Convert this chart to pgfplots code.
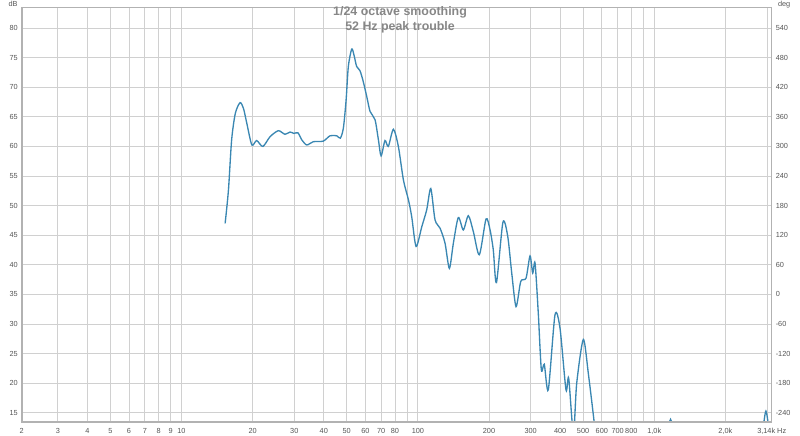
\documentclass[border=0pt]{standalone}
\usepackage{fontspec}
\setmainfont{Liberation Sans}
\usepackage{pgfplots}
\pgfplotsset{compat=1.18}
\usetikzlibrary{calc}
\definecolor{curve}{RGB}{58,135,178}
\definecolor{gridc}{RGB}{208,208,208}
\definecolor{framec}{RGB}{178,178,178}
\definecolor{labc}{RGB}{85,85,85}
\definecolor{titc}{RGB}{135,135,135}
\begin{document}
\begin{tikzpicture}
\begin{axis}[
  name=main,
  scale only axis,
  width=562.5pt, height=310.8pt,
  xmode=log,
  xmin=2.11, xmax=3140,
  ymin=13.5, ymax=83.5,
  xtick={2.11,3,4,5,6,7,8,9,10,20,30,40,50,60,70,80,90,100,200,300,400,500,600,700,800,900,1000,2000,3000,3140},
  xticklabels={2,3,4,5,6,7,8,9,10,20,30,40,50,60,70,80,,100,200,300,400,500,600,700,800,,{1,0k},{2,0k},,{3,14k Hz}},
  ytick={15,20,...,80},
  minor tick num=0,
  grid=major,
  major grid style={draw=gridc, line width=0.6pt},
  major tick length=0pt,
  axis line style={draw=framec, line width=0.7pt},
  tick label style={font=\fontsize{5.5}{6}\selectfont, text=labc},
  xticklabel style={yshift=-1.2pt},
  yticklabel style={xshift=0.5pt},
  /pgf/number format/assume math mode=true,
  title={1/24 octave smoothing\\52 Hz peak trouble},
  title style={at={(axis description cs:0.5,1)}, anchor=north, yshift=-2.2pt, xshift=2.5pt, align=center,
    font=\bfseries\fontsize{9.3}{10.6}\selectfont, text=titc},
  clip=true,
]
\addplot[curve, line width=1.0pt, smooth, tension=0.45] coordinates {
(15.3,47.0) (15.8,52.6) (16.3,61.1) (16.9,65.6) (17.7,67.4) (18.3,66.4) (18.9,63.9)
(19.85,60.25) (20.8,61.0) (22.1,60.0) (23.7,61.65) (25.7,62.66) (27.4,62.05) (28.8,62.44)
(29.9,62.2) (31.1,62.3) (32.3,61.1) (33.9,60.25) (36.1,60.8) (39.8,60.9) (42.5,61.8)
(45.4,61.8) (47.0,61.4) (48.4,63.1) (49.7,67.8) (50.8,73.5) (52.5,76.45) (53.7,75.4)
(55.1,73.5) (56.9,72.8) (58.8,70.9) (60.8,68.4) (62.8,65.9) (65.9,64.5) (68.1,61.1)
(69.9,58.4) (72.6,61.0) (75.0,60.0) (78.8,62.9) (82.7,60.0) (86.9,54.3) (91.2,51.0)
(94.2,48.1) (98.3,43.1) (103.9,46.45) (109.0,49.3) (113.4,52.9) (118.2,47.6) (124.1,46.2)
(130.3,43.65) (135.9,39.4) (141.3,43.65) (148.3,48.0) (155.7,45.9) (163.5,48.3) (171.7,45.6)
(182.0,41.7) (194.3,47.75) (202.0,45.9) (208.5,42.5) (215.0,37.0) (229.0,47.2) (240.0,44.8)
(249.5,38.6) (260.2,32.95) (272.4,37.2) (286.8,37.75) (298.2,41.5) (306.1,38.6) (313.1,40.3)
(323.2,31.8) (332.9,22.3) (342.6,23.2) (356.3,18.9) (380.3,31.55) (399.3,29.3) (423.2,18.9)
(434.5,20.85) (455.0,11.5) (469.8,20.0) (501.1,27.4) (526.0,21.7) (557.5,13.3) (565.0,11.0)
};
\addplot[curve, line width=1.0pt, smooth] coordinates {
(1140,12.0) (1172,13.9) (1205,12.0)
};
\addplot[curve, line width=1.0pt, smooth] coordinates {
(2880,12.0) (2967,15.3) (3060,12.0)
};
\end{axis}
\begin{axis}[
  at={(main.south west)}, anchor=south west,
  scale only axis,
  width=562.5pt, height=310.8pt,
  xmode=log, xmin=2.11, xmax=3140,
  ymin=-258, ymax=582,
  axis y line*=right,
  axis x line=none,
  ytick={-240,-180,...,540},
  major tick length=0pt,
  axis line style={draw=framec, line width=0.7pt},
  tick label style={font=\fontsize{5.5}{6}\selectfont, text=labc},
  yticklabel style={xshift=-0.5pt},
  /pgf/number format/assume math mode=true,
]
\end{axis}
\draw[framec, line width=1.4pt] (main.north west) -- (main.south west) -- (main.south east);
\node[font=\fontsize{5.5}{6}\selectfont, text=labc, anchor=north, inner sep=0pt] at ($(main.north west)+(-6.5pt,4.9pt)$) {dB};
\node[font=\fontsize{5.5}{6}\selectfont, text=labc, anchor=north west, inner sep=0pt] at ($(main.north east)+(4.5pt,4.6pt)$) {deg};
\pgfresetboundingbox
\path[use as bounding box] ($(main.south west)+(-16.3pt,-10pt)$) rectangle ($(main.north east)+(21.2pt,5.5pt)$);
\end{tikzpicture}
\end{document}
